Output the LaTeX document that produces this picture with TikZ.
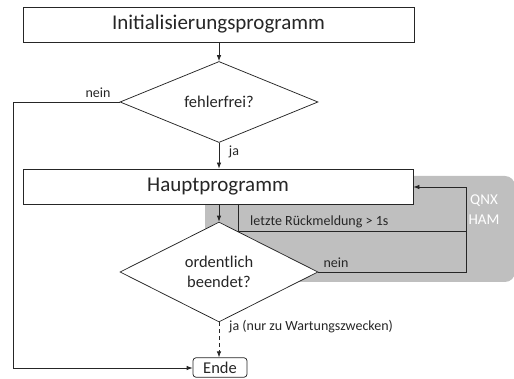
\documentclass[tikz,border=0pt]{standalone}
\usepackage{fontspec}
\setmainfont{Carlito}
\usetikzlibrary{shapes.geometric,arrows.meta}
\definecolor{ink}{HTML}{262626}
\definecolor{qnxgray}{HTML}{BFBFBF}
\tikzset{
  box/.style={draw=ink, line width=0.75pt, fill=white, rectangle, inner sep=0pt, text=ink},
  dec/.style={draw=ink, line width=0.75pt, fill=white, diamond, inner sep=0pt, minimum width=198pt, minimum height=72pt, text=ink, align=center, font=\fontsize{16.5}{20}\selectfont},
  conn/.style={draw=ink, line width=0.75pt},
  arr/.style={conn, -{Latex[length=6pt,width=4.5pt]}},
  lbl/.style={text=ink, inner sep=0pt, font=\fontsize{14}{16}\selectfont},
}
\begin{document}
\begin{tikzpicture}[x=1pt,y=-1pt]
\useasboundingbox (0,0) rectangle (514,379);
% gray QNX HAM region
\fill[qnxgray, rounded corners=10pt] (205,176) rectangle (515,282);
\node[text=white, align=center, font=\fontsize{15}{20}\selectfont, inner sep=0pt] (qnx) at (484,210) {QNX\\HAM};

\node[box, minimum width=391pt, minimum height=35pt, font=\fontsize{21}{24}\selectfont] (init) at (218.5,24.5) {Initialisierungsprogramm};
\node[dec] (d1) at (219,102) {fehlerfrei?};
\node[box, minimum width=390pt, minimum height=35pt, font=\fontsize{21}{24}\selectfont] (haupt) at (218,186.5) {Hauptprogramm};
\node[dec] (d2) at (219,272) {ordentlich\\beendet?};
\node[box, rounded corners=3pt, minimum width=54pt, minimum height=19.5pt, font=\fontsize{16.5}{20}\selectfont] (ende) at (220,367.5) {Ende};

\coordinate (c1) at (13,102);
\coordinate (c2) at (13,368);
\coordinate (h1) at (238,204);
\coordinate (h2) at (238,231);
\coordinate (r1) at (466,231);
\coordinate (r2) at (466,272);
\coordinate (r3) at (466,187);

\draw[arr] (init.south -| d1.north) -- (d1.north);
\draw[arr] (d1.west) -- (c1) -- (c2) -- (c2 -| ende.west);
\draw[arr] (d1.south) -- (haupt.north -| d1.south);
\draw[arr] (haupt.south -| d2.north) -- (d2.north);
\draw[conn] (h1) -- (h2) -- (r1);
\draw[arr] (d2.east) -- (r2) -- (r3) -- (r3 -| haupt.east);
\draw[arr, dashed, dash pattern=on 4pt off 3pt] (d2.south) -- (d2.south |- ende.north);

\node[lbl] (nein1) at (98,93) {nein};
\node[lbl] (ja1) at (234,152) {ja};
\node[lbl, anchor=west] (rm) at (250,222) {letzte Rückmeldung > 1s};
\node[lbl] (nein2) at (336,263) {nein};
\node[lbl, anchor=west] (ja2) at (229,327) {ja (nur zu Wartungszwecken)};
\end{tikzpicture}
\end{document}
